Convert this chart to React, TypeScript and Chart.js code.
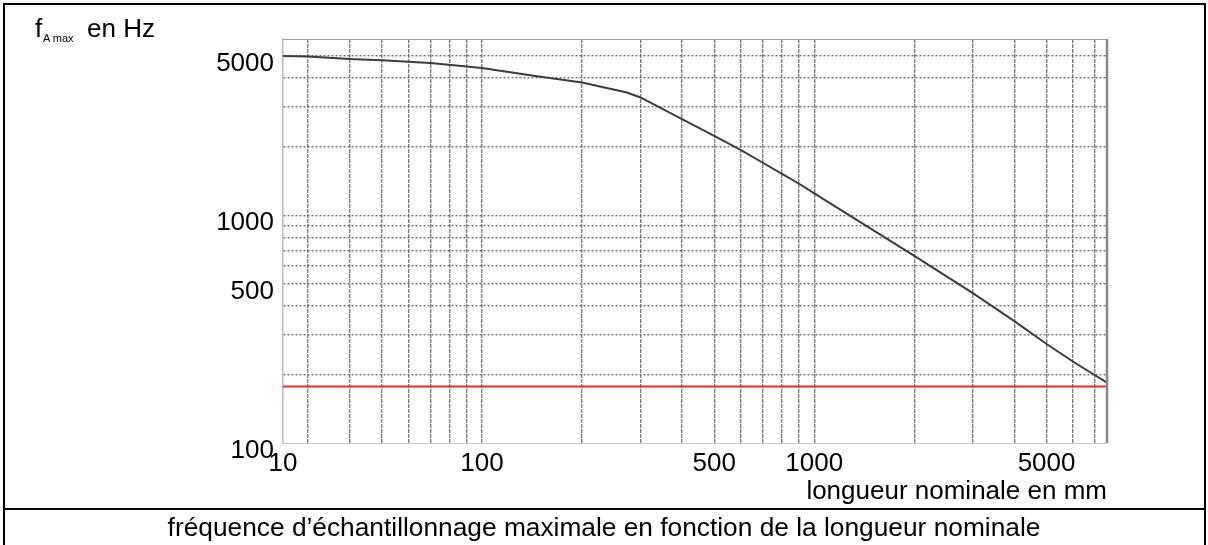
import React, { useEffect, useRef } from 'react';
import { Chart, registerables } from 'chart.js';

Chart.register(...registerables);

// ---- data ----
const lengthsMm = [25.2, 30, 40, 50, 70, 100, 143, 200, 273, 300, 400, 500, 600, 700, 800, 900, 1000, 2000, 3000, 4000, 5000, 6000, 7600];
const fMaxHz = [5000, 4980, 4850, 4790, 4665, 4430, 4100, 3830, 3460, 3290, 2640, 2230, 1935, 1700, 1520, 1375, 1247, 663, 455, 343, 272, 228, 184];
const limitHz = 177;

const xAxisMin = 25.2;
const xAxisMax = 7600;
const yAxisMin = 100;
const yAxisMax = 5940;

const xGridValues = [25.2, 30, 40, 50, 60, 70, 80, 90, 100, 200, 300, 400, 500, 600, 700, 800, 900, 1000, 2000, 3000, 4000, 5000, 6000, 7000];
const xLabelValues = [25.2, 100, 500, 1000, 5000];
const xLabelTexts = ['10', '100', '500', '1000', '5000'];

const yGridValues = [100, 200, 300, 400, 500, 600, 700, 800, 900, 1000, 2000, 3000, 4000, 5000];
const yLabelValues = [100, 500, 1000, 5000];
const yLabelTexts = ['100', '500', '1000', '5000'];

const FONT = "'Liberation Sans', Arial, Helvetica, sans-serif";

const framePlugin = {
  id: 'plotFrame',
  afterDraw(chart: any) {
    const { ctx, chartArea } = chart;
    ctx.save();
    ctx.strokeStyle = '#a0a0a0';
    ctx.lineWidth = 1.2;
    ctx.beginPath();
    ctx.moveTo(chartArea.left, chartArea.top + 0.5);
    ctx.lineTo(chartArea.right, chartArea.top + 0.5);
    ctx.stroke();
    ctx.strokeStyle = '#888888';
    ctx.lineWidth = 2.5;
    ctx.beginPath();
    ctx.moveTo(chartArea.right, chartArea.top);
    ctx.lineTo(chartArea.right, chartArea.bottom);
    ctx.stroke();
    ctx.restore();
  },
};

export default function App() {
  const ref = useRef<HTMLCanvasElement | null>(null);

  useEffect(() => {
    if (!ref.current) return;
    const chart = new Chart(ref.current, {
      type: 'scatter',
      data: {
        datasets: [
          {
            data: lengthsMm.map((x, i) => ({ x, y: fMaxHz[i] })),
            showLine: true,
            borderColor: '#3c3c3c',
            borderWidth: 2,
            pointRadius: 0,
            tension: 0,
          },
          {
            data: [
              { x: xAxisMin, y: limitHz },
              { x: xAxisMax, y: limitHz },
            ],
            showLine: true,
            borderColor: '#e3302c',
            borderWidth: 2,
            pointRadius: 0,
            clip: false,
          },
        ],
      },
      options: {
        responsive: false,
        animation: false,
        events: [],
        layout: { padding: { left: 200, right: 101, top: 39, bottom: 42 } },
        plugins: { legend: { display: false }, tooltip: { enabled: false }, title: { display: false } },
        scales: {
          x: {
            type: 'logarithmic',
            min: xAxisMin,
            max: xAxisMax,
            afterBuildTicks: (s: any) => {
              s.ticks = xGridValues.map((v) => ({ value: v }));
            },
            afterFit: (s: any) => {
              s.height = 60;
            },
            ticks: {
              autoSkip: false,
              maxRotation: 0,
              minRotation: 0,
              padding: 5,
              color: '#000',
              font: { family: FONT, size: 26 },
              callback: (v: any) => {
                const i = xLabelValues.indexOf(Number(v));
                return i >= 0 ? xLabelTexts[i] : '';
              },
            },
            grid: {
              drawTicks: false,
              lineWidth: 1.4,
              color: (c: any) => (c.tick && c.tick.value === xAxisMin ? 'rgba(0,0,0,0)' : 'rgba(105,105,105,0.85)'),
            },
            border: { display: true, color: '#c4c4c4', width: 1, dash: [4, 1] },
          },
          y: {
            type: 'logarithmic',
            min: yAxisMin,
            max: yAxisMax,
            afterBuildTicks: (s: any) => {
              s.ticks = yGridValues.map((v) => ({ value: v }));
            },
            afterFit: (s: any) => {
              s.width = 83;
            },
            ticks: {
              autoSkip: false,
              padding: 9,
              labelOffset: 8,
              color: '#000',
              font: { family: FONT, size: 26 },
              callback: (v: any) => {
                const i = yLabelValues.indexOf(Number(v));
                return i >= 0 ? yLabelTexts[i] : '';
              },
            },
            grid: {
              drawTicks: false,
              lineWidth: 1.4,
              color: (c: any) => (c.tick && c.tick.value === yAxisMin ? 'rgba(0,0,0,0)' : 'rgba(95,95,95,0.9)'),
            },
            border: { display: true, color: '#b8b8b8', width: 1.5, dash: [2, 2] },
          },
        },
      },
      plugins: [framePlugin],
    } as any);
    return () => chart.destroy();
  }, []);

  const text: React.CSSProperties = {
    position: 'absolute',
    fontFamily: FONT,
    fontSize: 26,
    lineHeight: '26px',
    color: '#000',
    whiteSpace: 'nowrap',
  };

  return (
    <div style={{ position: 'fixed', left: 0, top: 0, width: 1208, height: 545, background: '#fff', overflow: 'hidden' }}>
      <canvas ref={ref} width={1208} height={545} style={{ position: 'absolute', left: 0, top: 0, width: 1208, height: 545 }} />
      {/* outer frame */}
      <div style={{ position: 'absolute', left: 3, top: 3, width: 1199, height: 560, border: '2px solid #000', boxSizing: 'content-box' }} />
      <div style={{ position: 'absolute', left: 3, top: 508, width: 1202, height: 2, background: '#000' }} />
      {/* y axis title */}
      <div style={{ ...text, left: 35, top: 14.7 }}>f</div>
      <div style={{ ...text, left: 43, top: 33, fontSize: 11, lineHeight: '11px' }}>A max</div>
      <div style={{ ...text, left: 87, top: 14.7 }}>en Hz</div>
      {/* x axis title */}
      <div style={{ ...text, right: 1208 - 1107, top: 477 }}>longueur nominale en mm</div>
      {/* caption */}
      <div style={{ ...text, left: 0, width: 1208, textAlign: 'center', top: 514, fontSize: 26.3 }}>
        fréquence d’échantillonnage maximale en fonction de la longueur nominale
      </div>
    </div>
  );
}
